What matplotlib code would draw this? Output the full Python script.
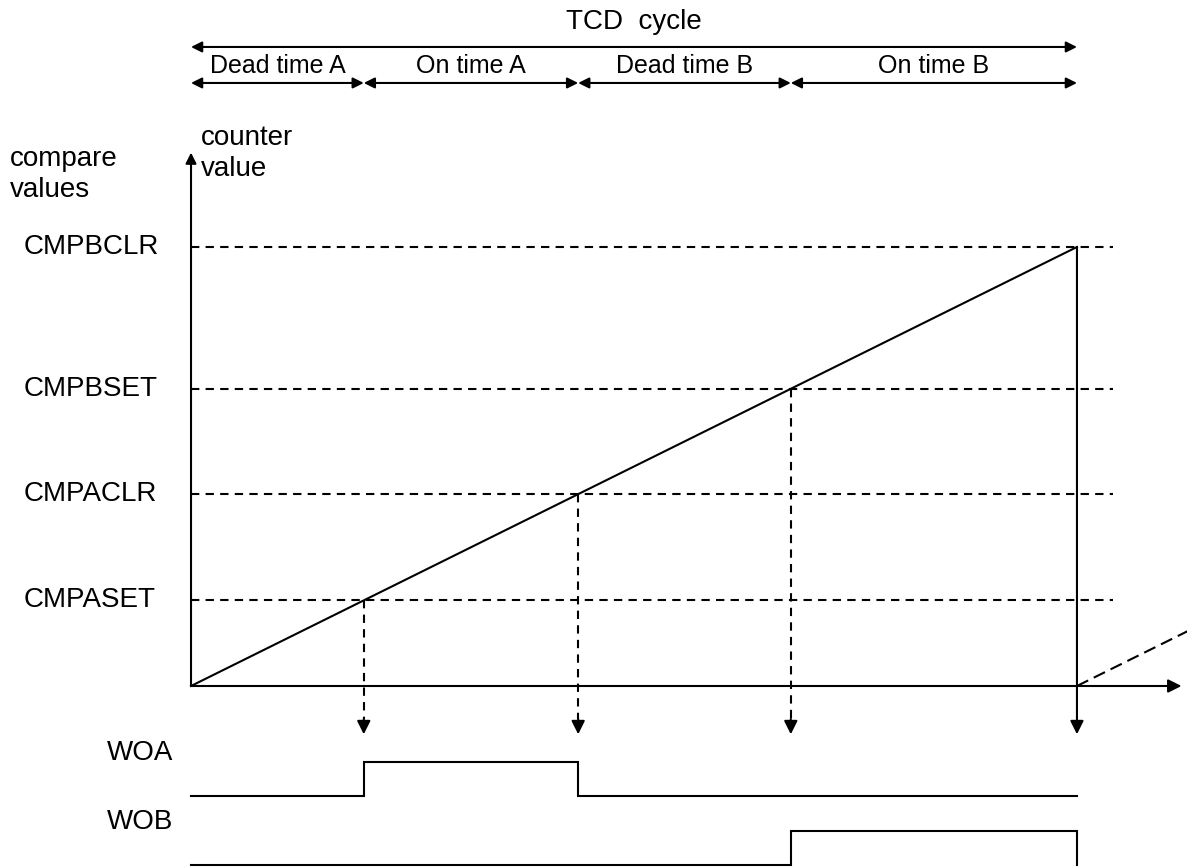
import matplotlib
matplotlib.use("Agg")
import matplotlib.pyplot as plt

plt.rcParams["font.family"] = ["Liberation Sans", "DejaVu Sans"]

# compare registers (counter rises 0 -> 1 over one TCD cycle)
cmp_labels = ["CMPASET", "CMPACLR", "CMPBSET", "CMPBCLR"]
cmp_values = [0.195, 0.437, 0.677, 1.0]
phase_names = ["Dead time A", "On time A", "Dead time B", "On time B"]

# output waveforms: (name, low level, high level, set index, clear index)
signal_names = ["WOA", "WOB"]
signal_low = [-0.251, -0.408]
signal_high = [-0.173, -0.330]
signal_edges = [(0, 1), (2, 3)]

LW = 1.5
DASH = (0, (4, 3))

fig = plt.figure(figsize=(11.87, 8.67), dpi=100)
ax = fig.add_axes([0, 0, 1, 1])
ax.set_xlim(-0.2156, 1.1242)
ax.set_ylim(-0.4123, 1.5626)
ax.axis("off")


def arrow(x0, y0, x1, y1, style="-|>", ms=20):
    ax.annotate("", xy=(x1, y1), xytext=(x0, y0),
                arrowprops=dict(arrowstyle=style, lw=LW, color="k",
                                mutation_scale=ms, shrinkA=0, shrinkB=0))


# axes of the counter plot
arrow(0, 0, 0, 1.215, ms=16)
arrow(0, 0, 1.118, 0)
ax.text(0.0115, 1.214, "counter\nvalue", fontsize=20, va="center", ha="left",
        linespacing=1.25)
ax.text(-0.2045, 1.164, "compare\nvalues", fontsize=20, va="center", ha="left",
        linespacing=1.25)

# counter ramp and start of the next cycle
ax.plot([0, 1], [0, cmp_values[-1]], color="k", lw=LW)
ax.plot([1, 1.13], [0, 0.13], color="k", lw=LW, linestyle=(0, (6, 3)))

# compare level lines and labels
for lab, v in zip(cmp_labels, cmp_values):
    ax.plot([0, 1.041], [v, v], color="k", lw=LW, linestyle=DASH)
    ax.text(-0.1885, v, lab, fontsize=20, va="center", ha="left")

# match arrows down to the outputs
arrow_end = -0.11
for v in cmp_values[:-1]:
    ax.plot([v, v], [v, arrow_end + 0.035], color="k", lw=LW, linestyle=DASH)
    arrow(v, arrow_end + 0.035, v, arrow_end)
arrow(cmp_values[-1], cmp_values[-1], cmp_values[-1], arrow_end)

# output waveforms
for name, lo, hi, (i_set, i_clr) in zip(signal_names, signal_low, signal_high,
                                        signal_edges):
    t_on = cmp_values[i_set]
    t_off = cmp_values[i_clr]
    xs = [0, t_on, t_on, t_off, t_off, 1]
    ys = [lo, lo, hi, hi, lo, lo]
    ax.plot(xs, ys, color="k", lw=LW, solid_joinstyle="miter")
    ax.text(-0.0948, (lo + hi) / 2 + 0.06, name, fontsize=20, va="center",
            ha="left")

# cycle and phase dimension arrows
cycle_y = 1.4556
phase_y = 1.3736
arrow(0, cycle_y, 1, cycle_y, style="<|-|>", ms=16)
ax.text(0.5, 1.513, "TCD  cycle", fontsize=20, ha="center", va="center")
bounds = [0] + cmp_values
for name, a, b in zip(phase_names, bounds[:-1], bounds[1:]):
    arrow(a, phase_y, b, phase_y, style="<|-|>", ms=16)
    ax.text((a + b) / 2, 1.4123, name, fontsize=18, ha="center", va="center")

fig.savefig("out.png", dpi=100)
